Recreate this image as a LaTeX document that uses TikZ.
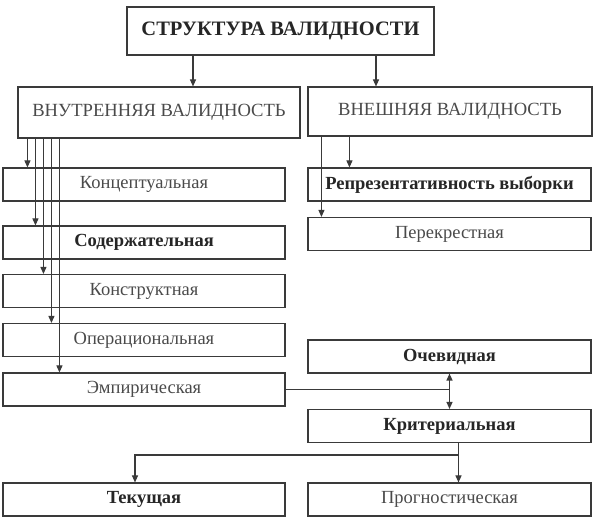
\documentclass[tikz,border=0pt]{standalone}
\usepackage{fontspec}
\setmainfont{Liberation Serif}
\usetikzlibrary{arrows,arrows.meta,positioning}
\definecolor{inkline}{HTML}{3A3A3A}
\definecolor{inktext}{HTML}{4A4A4A}
\tikzset{
	>={Triangle[length=7pt,width=6pt]}, % filled heads as in the scheme
	box/.style={draw=inkline, line width=1.1pt, inner sep=0pt, minimum height=33pt,
		text=inktext, font=\fontsize{18.5}{18.5}\selectfont},
	head/.style={box, font=\bfseries\fontsize{20.5}{20.5}\selectfont, text=black!85},
	sub/.style={box, font=\fontsize{18.6}{18.6}\selectfont},
	strong/.style={font=\bfseries\fontsize{18.5}{18.5}\selectfont, text=black!85},
	leftcol/.style={box, minimum width=282pt},
	rightcol/.style={box, minimum width=283pt},
}
\begin{document}
\begin{tikzpicture}[x=1pt, y=-1pt, color=inkline, line width=1.1pt]
	\useasboundingbox (0,0) rectangle (600,526);

	% top level
	\node[head, minimum width=307pt, minimum height=48pt] (struct) at (280.5,31) {СТРУКТУРА ВАЛИДНОСТИ};
	\node[sub, minimum width=282pt, minimum height=51pt] (inner) at (159,112.5) {ВНУТРЕННЯЯ ВАЛИДНОСТЬ};
	\node[sub, minimum width=284pt, minimum height=49pt] (outer) at (450,111.5) {ВНЕШНЯЯ ВАЛИДНОСТЬ};

	% left column
	\node[leftcol] (concept) at (144,184.5) {Концептуальная};
	\node[leftcol, strong] (content) at (144,242.5) {Содержательная};
	\node[leftcol] (construct) at (144,291) {Конструктная};
	\node[leftcol] (operat) at (144,340) {Операциональная};
	\node[leftcol] (empir) at (144,389.5) {Эмпирическая};

	% right column
	\node[rightcol, strong] (sample) at (449.5,184.5) {Репрезентативность выборки};
	\node[rightcol] (cross) at (449.5,234) {Перекрестная};
	\node[rightcol, strong] (obvious) at (449.5,356.5) {Очевидная};
	\node[rightcol, strong] (criter) at (449.5,426) {Критериальная};

	% bottom row
	\node[leftcol, strong] (current) at (144,499.5) {Текущая};
	\node[rightcol] (prognos) at (449.5,499.5) {Прогностическая};

	\draw[->] ([xshift=-87.5]struct.south) -- ([xshift=-87.5]struct.south |- inner.north);
	\draw[->] ([xshift=95.5]struct.south) -- ([xshift=95.5]struct.south |- outer.north);

	\foreach \d/\b in {10/concept, 18/content, 26/construct, 34/operat, 42/empir}
		\draw[->] ([xshift=\d]inner.south west) -- ([xshift=\d]inner.south west |- \b.north);

	\draw[->] ([xshift=42]outer.south west) -- ([xshift=42]outer.south west |- sample.north);
	\draw[->] ([xshift=14]outer.south west) -- ([xshift=14]outer.south west |- cross.north);

	\draw (empir.east) -- (empir.east -| obvious.south);
	\draw[<->] (obvious.south) -- (criter.north);

	\draw[->] ([xshift=9]criter.south) -- ([xshift=9]criter.south |- prognos.north);
	\draw[->] ([xshift=9,yshift=-12]criter.south) -| ([xshift=-9]current.north);
\end{tikzpicture}
\end{document}
